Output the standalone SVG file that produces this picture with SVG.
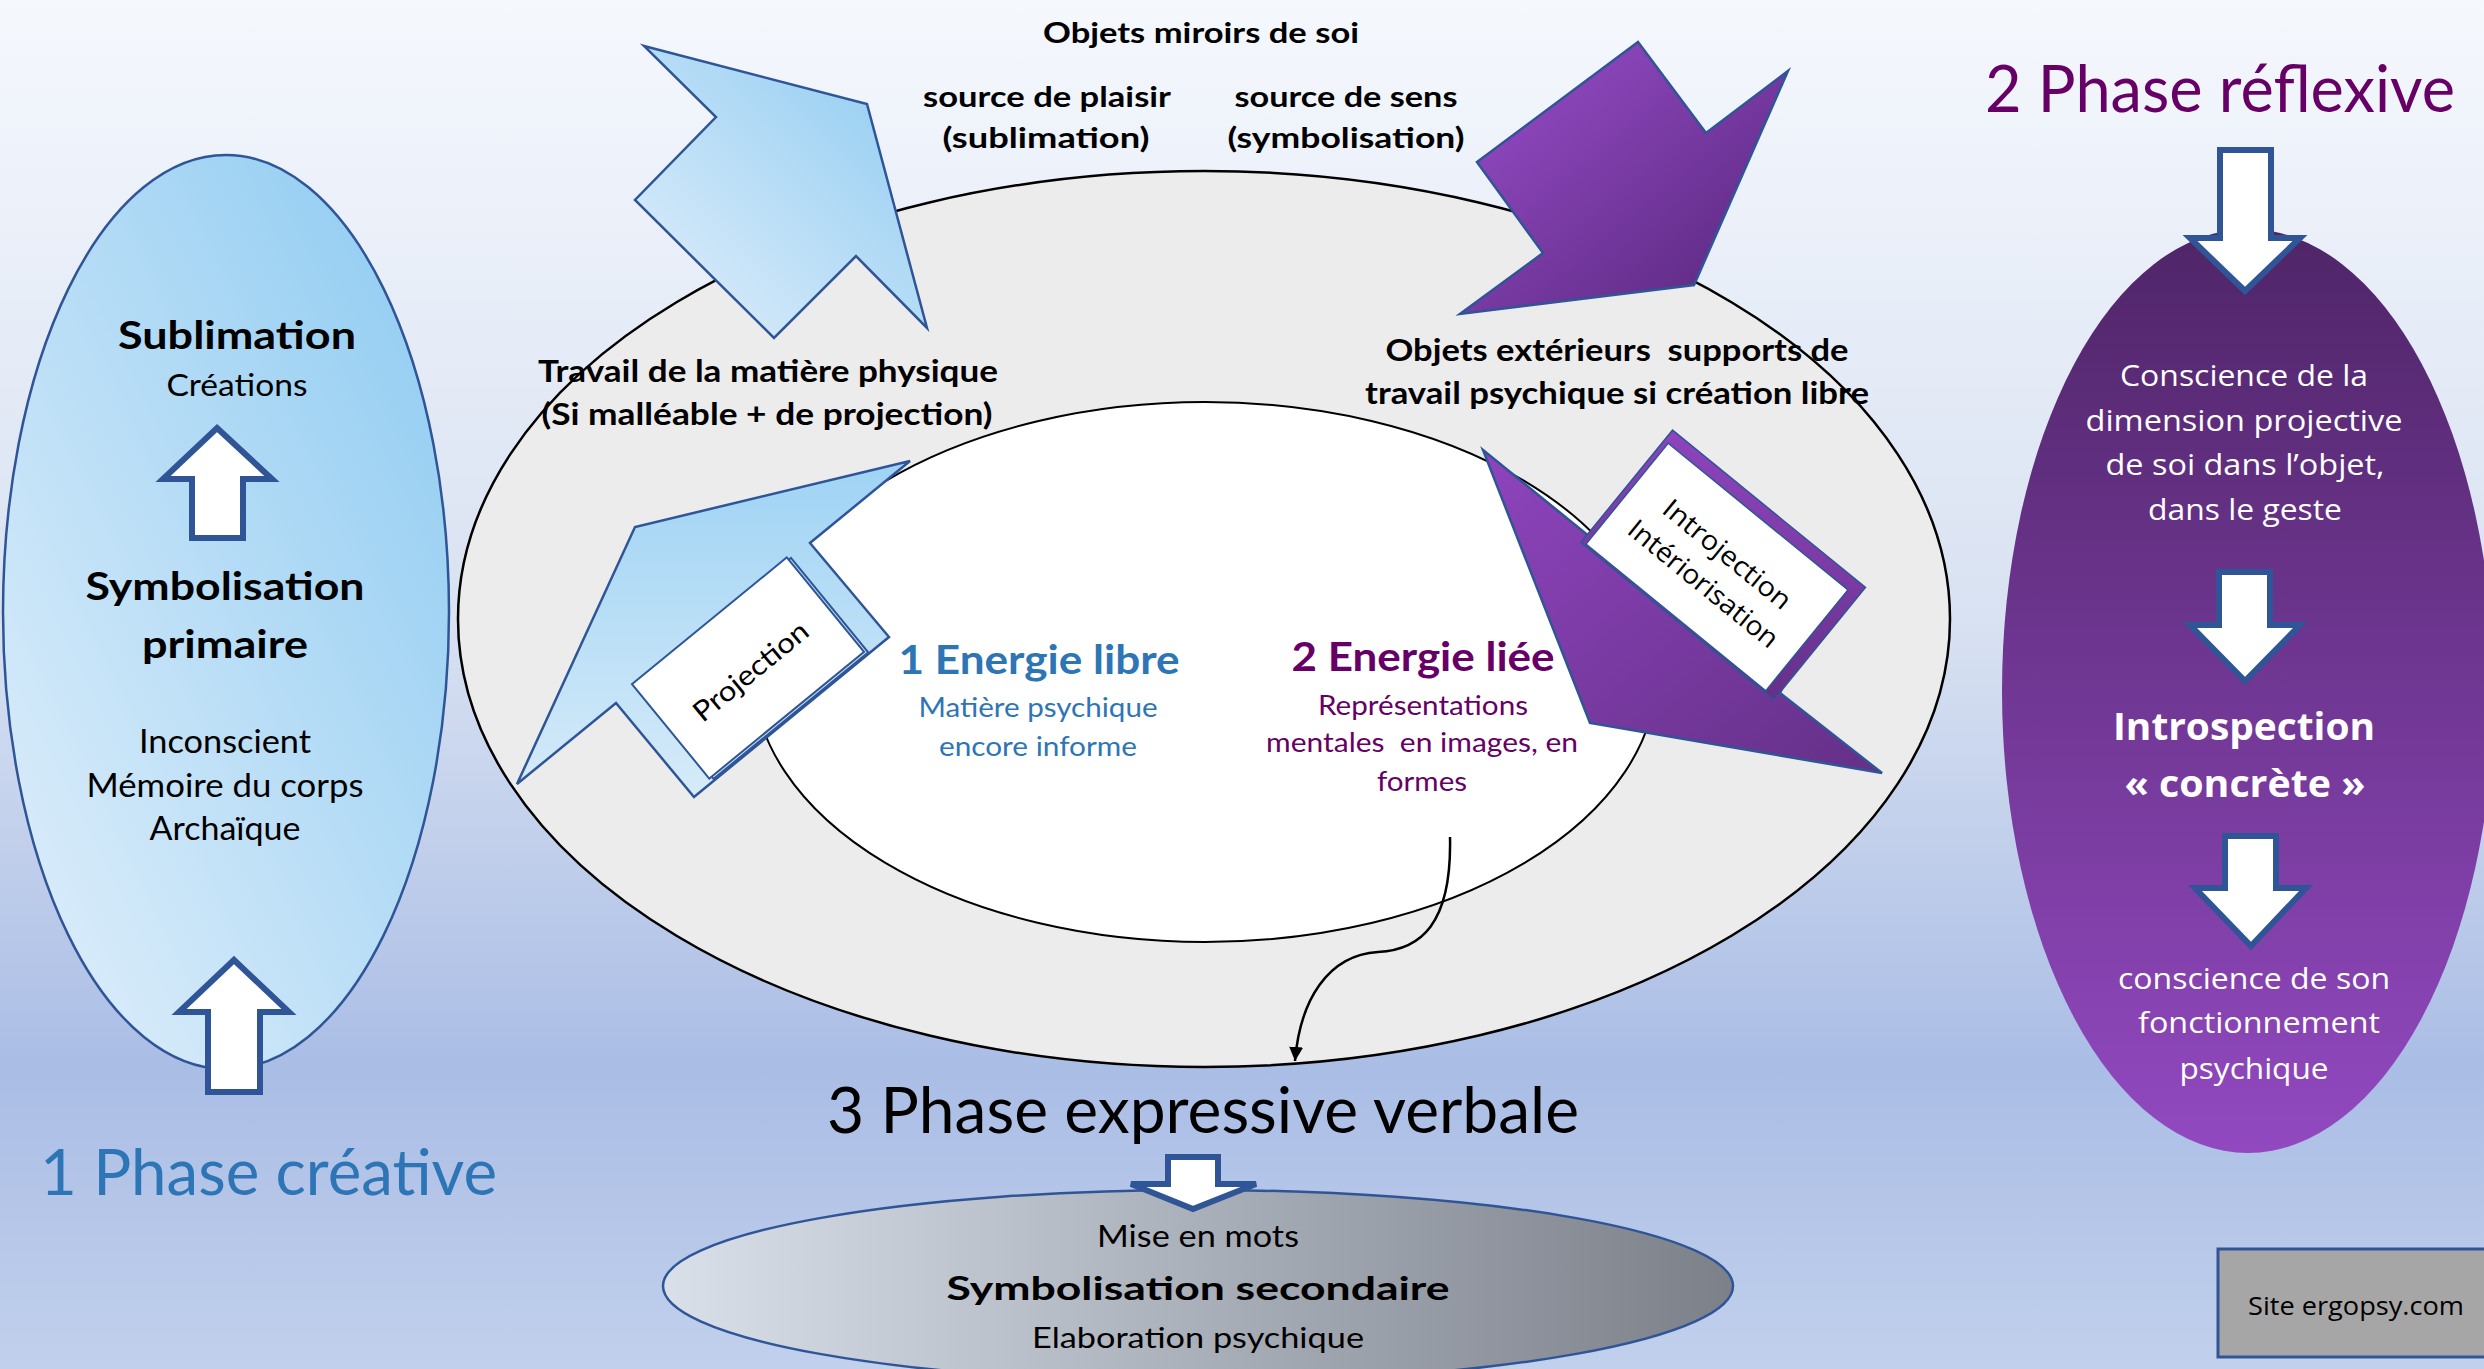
<svg xmlns="http://www.w3.org/2000/svg" width="2484" height="1369" viewBox="0 0 2484 1369">
<defs>
<linearGradient id="bgGrad" x1="0" y1="0" x2="0" y2="1">
<stop offset="0" stop-color="#f5f8fd"/><stop offset="0.45" stop-color="#d9e2f2"/><stop offset="0.78" stop-color="#aabde5"/><stop offset="1" stop-color="#c1d0ec"/>
</linearGradient>
<linearGradient id="blueGrad" x1="0" y1="1" x2="1" y2="0">
<stop offset="0" stop-color="#e3f0fb"/><stop offset="1" stop-color="#8ccaf1"/>
</linearGradient>
<linearGradient id="projGrad" x1="0" y1="0" x2="0" y2="1">
<stop offset="0" stop-color="#9fd3f4"/><stop offset="1" stop-color="#d6ebf9"/>
</linearGradient>
<linearGradient id="purpleGrad" x1="0" y1="0" x2="1" y2="1">
<stop offset="0" stop-color="#9a4fcc"/><stop offset="1" stop-color="#56257a"/>
</linearGradient>
<linearGradient id="purpleGrad2" x1="0" y1="0" x2="1" y2="1">
<stop offset="0" stop-color="#8e44bd"/><stop offset="1" stop-color="#643087"/>
</linearGradient>
<linearGradient id="rightGrad" x1="0" y1="0" x2="0" y2="1">
<stop offset="0" stop-color="#4f2568"/><stop offset="1" stop-color="#9249c0"/>
</linearGradient>
<linearGradient id="grayGrad" x1="0" y1="0" x2="1" y2="0">
<stop offset="0" stop-color="#d9e0ea"/><stop offset="1" stop-color="#7b8089"/>
</linearGradient>
<marker id="arrowHead" markerUnits="userSpaceOnUse" markerWidth="14" markerHeight="14" viewBox="0 0 10 10" refX="10" refY="5" orient="auto">
<path d="M0,0 L10,5 L0,10 z" fill="#000"/>
</marker>
<style>
.c { font-family: Lato, "Open Sans", sans-serif; }
.v { font-family: "Open Sans", sans-serif; }
.b { font-weight: bold; }
.m { text-anchor: middle; }
.blk { fill: #000; }
.wht { fill: #fff; }
.blu { fill: #2e75b6; }
.pur { fill: #660066; }
.pre { white-space: pre; }
.wa { fill: #fff; stroke: #2f5597; stroke-width: 6; stroke-linejoin: miter; }
.edge { stroke: #2f5597; stroke-width: 2.5; }
</style>
</defs>

<rect id="background" x="0" y="0" width="2484" height="1369" fill="url(#bgGrad)"/>

<g id="node-phase-creative">
<ellipse cx="226" cy="612" rx="223" ry="457" fill="url(#blueGrad)" stroke="#2f5597" stroke-width="2.5"/>
<text class="c b m blk" x="237" y="349" font-size="39" textLength="238" lengthAdjust="spacingAndGlyphs">Sublimation</text>
<text class="c m blk" x="237" y="396" font-size="31" textLength="141" lengthAdjust="spacingAndGlyphs">Créations</text>
<text class="c b m blk" x="225" y="600" font-size="39" textLength="279" lengthAdjust="spacingAndGlyphs">Symbolisation</text>
<text class="c b m blk" x="225" y="658" font-size="39" textLength="166" lengthAdjust="spacingAndGlyphs">primaire</text>
<text class="c m blk" x="225" y="753" font-size="32" textLength="172" lengthAdjust="spacingAndGlyphs">Inconscient</text>
<text class="c m blk" x="225" y="797" font-size="32" textLength="277" lengthAdjust="spacingAndGlyphs">Mémoire du corps</text>
<text class="c m blk" x="225" y="840" font-size="32" textLength="151" lengthAdjust="spacingAndGlyphs">Archaïque</text>
<text class="c blu" x="40" y="1195" font-size="63" textLength="457" lengthAdjust="spacingAndGlyphs">1 Phase créative</text>
</g>

<g id="node-cycle">
<ellipse cx="1204" cy="619" rx="746" ry="448" fill="#ececec" stroke="#000" stroke-width="2.5"/>
<ellipse cx="1205" cy="672" rx="452" ry="270" fill="#fff" stroke="#000" stroke-width="2"/>
</g>

<g id="node-arrow-sublimation">
<polygon points="644,46 867,104 927,328 856,256 774,338 635,200 716,117" fill="url(#blueGrad)" class="edge"/>
</g>

<g id="node-arrow-symbolisation">
<polygon points="1638,42 1706,133 1788,71 1694,285 1460,314 1543,253 1477,162" fill="url(#purpleGrad)" class="edge"/>
</g>

<g id="node-labels-ring">
<text class="c b m blk" x="1201" y="43" font-size="28" textLength="316" lengthAdjust="spacingAndGlyphs">Objets miroirs de soi</text>
<text class="c b m blk" x="1047" y="107" font-size="28" textLength="248" lengthAdjust="spacingAndGlyphs">source de plaisir</text>
<text class="c b m blk" x="1046" y="148" font-size="28" textLength="207" lengthAdjust="spacingAndGlyphs">(sublimation)</text>
<text class="c b m blk" x="1346" y="107" font-size="28" textLength="223" lengthAdjust="spacingAndGlyphs">source de sens</text>
<text class="c b m blk" x="1346" y="148" font-size="28" textLength="237" lengthAdjust="spacingAndGlyphs">(symbolisation)</text>
<text class="c b m blk" x="768" y="382" font-size="30" textLength="460" lengthAdjust="spacingAndGlyphs">Travail de la matière physique</text>
<text class="c b m blk" x="767" y="425" font-size="30" textLength="451" lengthAdjust="spacingAndGlyphs">(Si malléable + de projection)</text>
<text class="c b m blk pre" x="1617" y="361" font-size="30" textLength="463" lengthAdjust="spacingAndGlyphs">Objets extérieurs  supports de</text>
<text class="c b m blk" x="1617" y="404" font-size="30" textLength="504" lengthAdjust="spacingAndGlyphs">travail psychique si création libre</text>
</g>

<g id="node-projection">
<polygon points="910,461 810,543 889,637 694,797 616,703 517,784 635,527" fill="url(#projGrad)" class="edge"/>
<g transform="translate(748,668) rotate(-39.3)">
<rect x="-97" y="-58" width="200" height="122" fill="none" stroke="#2f5597" stroke-width="2"/>
<rect x="-100" y="-61" width="200" height="122" fill="#fff" stroke="#2f5597" stroke-width="2"/>
<text class="c m blk" x="0" y="14" font-size="28" textLength="140" lengthAdjust="spacingAndGlyphs">Projection</text>
</g>
</g>

<g id="node-introjection">
<polygon points="1483,450 1590,537 1700,480 1820,610 1780,693 1882,773 1590,723" fill="url(#purpleGrad2)" class="edge"/>
<g transform="translate(1717,567) rotate(39.2)">
<rect x="-121" y="-78" width="249" height="145" fill="url(#purpleGrad2)" stroke="#2f5597" stroke-width="1.5"/>
<rect x="-116" y="-65" width="232" height="130" fill="#fff" stroke="#2f5597" stroke-width="1.5"/>
<text class="v m blk" x="0" y="-7" font-size="27" textLength="157" lengthAdjust="spacingAndGlyphs">Introjection</text>
<text class="v m blk" x="0" y="31" font-size="27" textLength="185" lengthAdjust="spacingAndGlyphs">Intériorisation</text>
</g>
</g>

<g id="node-energie-libre">
<text class="c b m blu" x="1039" y="674" font-size="40" textLength="281" lengthAdjust="spacingAndGlyphs">1 Energie libre</text>
<text class="c m blu" x="1038" y="717" font-size="26" textLength="239" lengthAdjust="spacingAndGlyphs">Matière psychique</text>
<text class="c m blu" x="1038" y="756" font-size="26" textLength="198" lengthAdjust="spacingAndGlyphs">encore informe</text>
</g>

<g id="node-energie-liee">
<text class="c b m pur" x="1423" y="671" font-size="40" textLength="263" lengthAdjust="spacingAndGlyphs">2 Energie liée</text>
<text class="c m pur" x="1423" y="715" font-size="26" textLength="210" lengthAdjust="spacingAndGlyphs">Représentations</text>
<text class="c m pur pre" x="1422" y="752" font-size="26" textLength="312" lengthAdjust="spacingAndGlyphs">mentales  en images, en</text>
<text class="c m pur" x="1422" y="791" font-size="26" textLength="90" lengthAdjust="spacingAndGlyphs">formes</text>
</g>

<g id="node-phase-verbale">
<text class="c m blk" x="1203" y="1133" font-size="64" textLength="752" lengthAdjust="spacingAndGlyphs">3 Phase expressive verbale</text>
<ellipse cx="1198" cy="1286" rx="535" ry="96" fill="url(#grayGrad)" stroke="#2f5597" stroke-width="2.5"/>
<text class="c m blk" x="1198" y="1247" font-size="30" textLength="202" lengthAdjust="spacingAndGlyphs">Mise en mots</text>
<text class="c b m blk" x="1198" y="1300" font-size="33" textLength="503" lengthAdjust="spacingAndGlyphs">Symbolisation secondaire</text>
<text class="c m blk" x="1198" y="1348" font-size="28" textLength="332" lengthAdjust="spacingAndGlyphs">Elaboration psychique</text>
</g>

<g id="node-phase-reflexive">
<text class="c m pur" x="2220" y="112" font-size="66" textLength="470" lengthAdjust="spacingAndGlyphs">2 Phase réflexive</text>
<ellipse cx="2248" cy="691" rx="246" ry="462" fill="url(#rightGrad)"/>
<text class="v m wht" x="2244" y="386" font-size="30" textLength="248" lengthAdjust="spacingAndGlyphs">Conscience de la</text>
<text class="v m wht" x="2244" y="431" font-size="30" textLength="317" lengthAdjust="spacingAndGlyphs">dimension projective</text>
<text class="v m wht" x="2245" y="475" font-size="30" textLength="279" lengthAdjust="spacingAndGlyphs">de soi dans l’objet,</text>
<text class="v m wht" x="2245" y="520" font-size="30" textLength="194" lengthAdjust="spacingAndGlyphs">dans le geste</text>
<text class="v b m wht" x="2244" y="740" font-size="38" textLength="262" lengthAdjust="spacingAndGlyphs">Introspection</text>
<text class="v b m wht" x="2245" y="797" font-size="38" textLength="241" lengthAdjust="spacingAndGlyphs">« concrète »</text>
<text class="v m wht" x="2254" y="989" font-size="30" textLength="272" lengthAdjust="spacingAndGlyphs">conscience de son</text>
<text class="v m wht" x="2259" y="1033" font-size="30" textLength="242" lengthAdjust="spacingAndGlyphs">fonctionnement</text>
<text class="v m wht" x="2254" y="1079" font-size="30" textLength="149" lengthAdjust="spacingAndGlyphs">psychique</text>
</g>

<g id="node-site">
<rect x="2218" y="1249" width="270" height="108" fill="#a6a6a6" stroke="#2f5597" stroke-width="3"/>
<text class="v m blk" x="2356" y="1315" font-size="26" textLength="216" lengthAdjust="spacingAndGlyphs">Site ergopsy.com</text>
</g>

<g id="connectors">
<path d="M1450,837 C1452,925 1420,950 1378,952 C1328,955 1300,1000 1295,1061" fill="none" stroke="#000" stroke-width="2.5" marker-end="url(#arrowHead)"/>
<polygon class="wa" points="217,428 272,479 243,479 243,538 192,538 192,479 163,479"/>
<polygon class="wa" points="234,960 289,1012 260,1012 260,1092 208,1092 208,1012 179,1012"/>
<polygon class="wa" points="2220,150 2271,150 2271,238 2300,238 2245,291 2190,238 2220,238"/>
<polygon class="wa" points="2219,572 2270,572 2270,625 2300,625 2245,681 2190,625 2219,625"/>
<polygon class="wa" points="2225,836 2276,836 2276,888 2306,888 2251,946 2195,888 2225,888"/>
<polygon class="wa" points="1168,1157 1218,1157 1218,1184 1256,1184 1193,1209 1131,1184 1168,1184"/>
</g>
</svg>
